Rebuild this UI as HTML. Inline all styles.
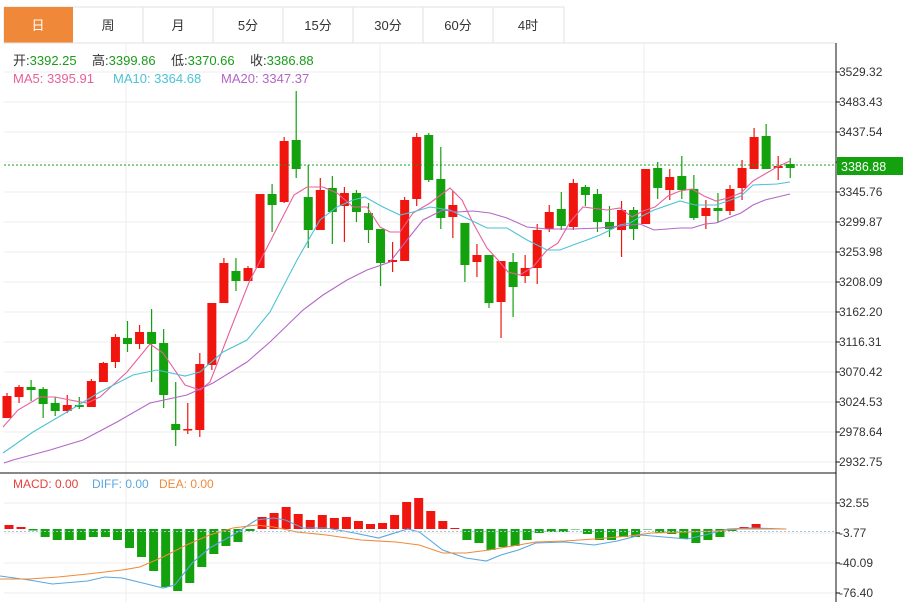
<!DOCTYPE html>
<html><head><meta charset="utf-8"><style>
body{margin:0;background:#fff;width:909px;height:602px;overflow:hidden;font-family:"Liberation Sans","Noto Sans CJK SC",sans-serif}
svg{position:absolute;left:0;top:0}
</style></head><body>
<svg id="s" width="909" height="602" xmlns="http://www.w3.org/2000/svg" font-family="Liberation Sans, Noto Sans CJK SC, sans-serif">
<g id="grid"></g>
<rect x="4" y="7" width="560" height="36" fill="#fff" stroke="#e2e2e2"/>
<rect x="4" y="7" width="69" height="36" fill="#f0883a"/>
<g stroke="#e2e2e2"><line x1="143" y1="7" x2="143" y2="43"/><line x1="213" y1="7" x2="213" y2="43"/><line x1="283" y1="7" x2="283" y2="43"/><line x1="353" y1="7" x2="353" y2="43"/><line x1="423" y1="7" x2="423" y2="43"/><line x1="493" y1="7" x2="493" y2="43"/><line x1="4" y1="43" x2="836" y2="43"/></g>
<g font-size="13" fill="#333" text-anchor="middle">
<text x="38" y="30" fill="#fff">日</text><text x="108" y="30">周</text><text x="178" y="30">月</text><text x="248" y="30">5分</text><text x="318" y="30">15分</text><text x="388" y="30">30分</text><text x="458" y="30">60分</text><text x="528" y="30">4时</text>
</g>
<g font-size="13">
<text x="13" y="65" fill="#333">开:<tspan fill="#1a9c1a">3392.25</tspan></text>
<text x="92" y="65" fill="#333">高:<tspan fill="#1a9c1a">3399.86</tspan></text>
<text x="171" y="65" fill="#333">低:<tspan fill="#1a9c1a">3370.66</tspan></text>
<text x="250" y="65" fill="#333">收:<tspan fill="#1a9c1a">3386.88</tspan></text>
<text x="13" y="83" fill="#e8609a">MA5: 3395.91</text>
<text x="113" y="83" fill="#4cc3d4">MA10: 3364.68</text>
<text x="221" y="83" fill="#b466c8">MA20: 3347.37</text>
</g>
<g font-size="12" fill="#333">
<text x="839" y="76">3529.32</text><text x="839" y="106">3483.43</text><text x="839" y="136">3437.54</text><text x="839" y="196">3345.76</text><text x="839" y="226">3299.87</text><text x="839" y="256">3253.98</text><text x="839" y="286">3208.09</text><text x="839" y="316">3162.20</text><text x="839" y="346">3116.31</text><text x="839" y="376">3070.42</text><text x="839" y="406">3024.53</text><text x="839" y="436">2978.64</text><text x="839" y="466">2932.75</text>
<text x="839" y="507">32.55</text><text x="839" y="537">-3.77</text><text x="839" y="567">-40.09</text><text x="839" y="597">-76.40</text>
</g>
<g font-size="12"><text x="13" y="488" fill="#e8403a">MACD: 0.00</text><text x="92" y="488" fill="#5aa7e0">DIFF: 0.00</text><text x="159" y="488" fill="#f08a3a">DEA: 0.00</text></g>
<g id="plot"></g>
<line x1="4" y1="165" x2="836" y2="165" stroke="#1a9c1a" stroke-dasharray="2,2"/>
<line x1="4" y1="531.5" x2="836" y2="531.5" stroke="#9cc9e0" stroke-dasharray="2,2"/>
<line x1="0" y1="473" x2="836" y2="473" stroke="#111"/>
<line x1="836" y1="43" x2="836" y2="602" stroke="#111"/>
<g id="ticks" stroke="#111"></g>
<rect x="837" y="157" width="66" height="18" fill="#13a10e"/>
<text x="841" y="171" font-size="12.5" fill="#fff">3386.88</text>
</svg>
<script>
var NS="http://www.w3.org/2000/svg";
function el(p,t,a){var e=document.createElementNS(NS,t);for(var k in a)e.setAttribute(k,a[k]);document.getElementById(p).appendChild(e);return e;}
[72,102,132,162,192,222,252,282,312,342,372,402,432,462,503,533,563,593].forEach(function(y){el("grid","line",{x1:4,x2:836,y1:y,y2:y,stroke:"#ececec"});el("ticks","line",{x1:836,x2:840,y1:y,y2:y});});
[126,380,644].forEach(function(x){el("grid","line",{x1:x,x2:x,y1:43,y2:602,stroke:"#ececec"});});
var C=[[418,396,393,418],[397,387,385,403],[387,390,380,401],[389,404,387,418],[403,411,397,416],[411,405,395,413],[405,407,397,409],[407,381,379,407],[382,363,362,382],[362,337,334,368],[338,344,321,352],[344,332,325,349],[332,344,309,382],[343,395,329,408],[424,430,382,446],[430,429,403,434],[430,364,353,437],[365,303,303,370],[303,263,258,303],[271,281,258,291],[281,268,266,281],[268,194,194,268],[194,205,184,232],[202,141,137,203],[140,169,91,178],[197,230,165,248],[230,190,178,230],[188,212,176,244],[206,193,187,242],[193,212,190,222],[213,230,203,243],[229,263,229,286],[262,260,242,272],[261,200,197,261],[199,137,133,206],[135,180,133,182],[179,218,147,229],[217,205,191,238],[223,265,223,282],[262,255,244,277],[255,303,255,308],[302,261,261,338],[262,287,253,317],[276,268,255,283],[268,230,224,284],[229,212,205,232],[209,226,192,230],[227,183,179,230],[187,195,185,206],[194,222,189,232],[222,229,206,237],[230,210,201,257],[210,229,207,240],[224,169,169,224],[168,188,162,199],[190,177,169,200],[176,190,156,199],[189,218,175,220],[216,208,200,229],[208,211,193,223],[211,189,185,215],[188,168,160,200],[169,137,128,169],[136,169,124,169],[168,166,156,180],[164,168,158,178]];
var R="#f0150e",G="#13a10e";
C.forEach(function(c,i){var x=7+i*12.05,up=c[1]<=c[0],col=up?R:G;
el("plot","line",{x1:x,x2:x,y1:c[2],y2:c[3],stroke:col,"stroke-width":1.2});
var t=Math.min(c[0],c[1]),h=Math.max(Math.abs(c[0]-c[1]),1.5);el("plot","rect",{x:x-4.5,y:t,width:9,height:h,fill:col});});
function pl(pts,col){el("plot","polyline",{points:pts.map(function(p){return p[0]+","+p[1]}).join(" "),fill:"none",stroke:col,"stroke-width":1.1});}
pl([[3,427],[18,410],[40,397],[55,397],[70,400],[87,403],[100,397],[127,372],[150,344],[163,353],[185,385],[200,390],[210,382],[233,323],[250,280],[257,267],[294,195],[307,187],[323,187],[337,193],[353,207],[367,207],[380,227],[390,232],[400,232],[413,213],[430,203],[450,188],[462,200],[473,223],[487,248],[498,260],[508,272],[520,275],[533,267],[547,250],[558,243],[570,222],[583,207],[607,210],[620,208],[632,217],[643,211],[655,207],[668,196],[680,191],[692,189],[704,196],[716,201],[728,198],[741,193],[753,181],[765,174],[777,167],[790,161]],"#e8609a");
pl([[3,453],[33,432],[67,412],[100,392],[133,375],[157,370],[185,376],[200,372],[223,352],[247,340],[270,312],[297,260],[320,220],[337,207],[353,200],[365,197],[383,207],[400,215],[413,212],[430,207],[450,210],[460,215],[487,228],[507,228],[527,240],[547,250],[560,250],[573,245],[587,240],[600,235],[620,225],[630,223],[640,217],[654,210],[680,201],[695,205],[716,205],[728,201],[741,196],[753,185],[777,184],[790,182]],"#4cc3d4");
pl([[4,463],[13,460],[50,450],[83,440],[117,422],[150,403],[187,395],[213,383],[247,362],[270,342],[303,310],[323,295],[347,280],[367,270],[390,262],[407,240],[423,220],[443,210],[457,212],[473,211],[490,213],[507,218],[527,227],[547,229],[573,229],[600,228],[620,226],[640,224],[654,230],[680,228],[692,228],[705,224],[716,223],[728,218],[741,213],[753,205],[765,200],[790,194]],"#b466c8");
var M=[4,2,-1.5,-8,-11,-11,-11,-8,-8,-11,-19,-28,-42,-58,-62,-54,-38,-25,-17,-13,-2,12,16,22,15,9,14,11,12,8,5,6,14,27,31,18,8,1,-11,-14,-21,-18,-17,-11,-4,-3,-3,-0.5,-5,-11,-11,-8,-8,-0.5,-4,-5,-10,-14,-11,-8,-2,2,5,1];
var Z=529;
M.forEach(function(v,i){var x=9+i*12.05;el("plot","rect",{x:x-4.5,y:v>0?Z-v:Z,width:9,height:Math.abs(v),fill:v>0?R:G});});
var s=1/1.717;
function ml(p,col){pl(p.map(function(q){return [q[0]*s,q[1]]}),col);}
ml([[0,576],[50,580],[90,584],[150,581],[180,577],[210,578],[245,583],[280,588],[300,585],[330,563],[360,548],[400,535],[440,520],[470,518],[490,520],[520,528],[560,528],[600,532],[650,538],[700,529],[720,532],[760,550],[800,558],[835,561],[860,555],[890,550],[920,543],[970,542],[1020,545],[1060,541],[1100,535],[1140,537],[1180,539],[1210,535],[1250,529],[1290,528],[1350,529]],"#5aa7e0");
ml([[0,579],[50,579],[100,577],[150,574],[210,570],[240,567],[280,557],[320,545],[360,535],[400,528],[440,525],[470,527],[510,532],[560,535],[620,540],[680,542],[720,545],[760,553],[800,553],[840,550],[880,546],[920,542],[970,541],[1020,539],[1080,536],[1120,533],[1180,532],[1230,531],[1270,529],[1350,529]],"#f08a3a");
</script>
</body></html>
